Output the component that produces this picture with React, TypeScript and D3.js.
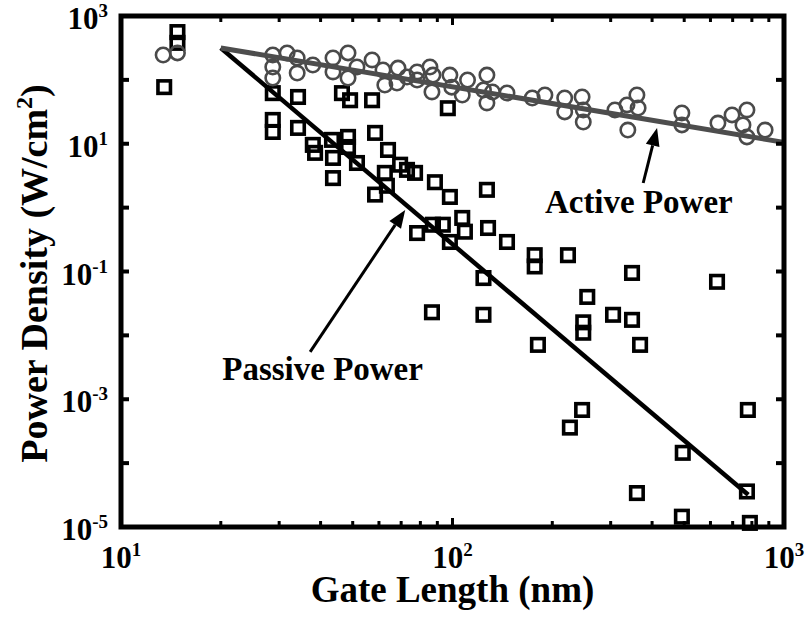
import React from "react";
import * as d3 from "d3";

// Passive power (squares)
const passiveX = [14.8, 14.8, 13.5, 28.7, 34.2, 46.4, 49.1, 57.2, 96.8, 28.7, 28.7, 34.2, 37.9, 38.5, 43.3, 48.4, 48.4, 43.6, 51.5, 43.6, 58.4, 63.9, 62.5, 69.5, 72.9, 77.1, 88.5, 58.4, 63.4, 98.2, 127, 78.2, 87.3, 93.5, 107, 109, 98.2, 128, 146, 177, 177, 124, 86.7, 124, 181, 223, 348, 255, 248, 248, 305, 348, 368, 628, 246, 226, 495, 360, 492, 778, 773, 789];
const passiveY = [560, 380, 77, 62, 54, 62, 48, 48, 36, 23.6, 15.3, 17.7, 9.6, 7.2, 11.5, 12.8, 8.9, 6.0, 5.0, 2.9, 14.8, 8.0, 3.5, 4.7, 3.9, 3.5, 2.5, 1.6, 2.2, 1.47, 1.9, 0.40, 0.54, 0.54, 0.69, 0.42, 0.29, 0.48, 0.29, 0.18, 0.12, 0.079, 0.023, 0.021, 0.0071, 0.18, 0.095, 0.040, 0.016, 0.011, 0.021, 0.0175, 0.0071, 0.069, 6.8e-4, 3.6e-4, 1.45e-4, 3.4e-5, 1.45e-5, 6.8e-4, 3.6e-5, 1.16e-5];

// Active power (circles)
const activeX = [13.4, 14.8, 28.7, 31.7, 34.0, 28.7, 28.7, 34.0, 37.9, 43.6, 48.4, 43.6, 48.4, 51.5, 57.2, 61.7, 62.5, 68.5, 68.0, 72.9, 78.2, 78.2, 85.5, 87.3, 86.7, 98.2, 99.5, 107, 111, 127, 124, 127, 132, 146, 174, 190, 218, 246, 218, 248, 248, 309, 336, 360, 363, 338, 492, 492, 632, 697, 773, 752, 773, 877];
const activeY = [245, 264, 245, 264, 220, 159, 107, 128, 171, 220, 264, 133, 107, 159, 205, 143, 83, 153, 89, 111, 133, 99.6, 159, 119, 64.7, 119, 77, 58, 99.6, 119, 69.5, 43.5, 64.7, 62.4, 52, 58, 52, 54, 31.5, 33.8, 21.9, 33.8, 40.5, 58, 36.3, 16.4, 30.3, 19.7, 21.1, 28.3, 33.8, 19.7, 12.8, 16.4];

// Fitted trend lines
const activeFitX = [20, 1000];
const activeFitY = [316, 10.5];
const passiveFitX = [20, 780];
const passiveFitY = [316, 3.2e-5];

const xTickValues = [10, 100, 1000];
const xTickExp = ["1", "2", "3"];
const yTickValues = [1e3, 1e1, 1e-1, 1e-3, 1e-5];
const yTickExp = ["3", "1", "-1", "-3", "-5"];
const yMajor = [1e-5, 1e-4, 1e-3, 1e-2, 1e-1, 1, 10, 100, 1000];

const font = "'Liberation Serif', 'Times New Roman', serif";

export default function App() {
  const left = 121, right = 784, top = 16, bottom = 527;
  const x = d3.scaleLog().domain([10, 1000]).range([left, right]);
  const y = d3.scaleLog().domain([1e-5, 1e3]).range([bottom, top]);

  const xMinor: number[] = [];
  for (const dec of [10, 100]) for (let k = 2; k <= 9; k++) xMinor.push(dec * k);

  const line = d3.line<[number, number]>().x((d) => x(d[0])).y((d) => y(d[1]));
  const activeLine = line(activeFitX.map((v, i) => [v, activeFitY[i]] as [number, number]));
  const passiveLine = line(passiveFitX.map((v, i) => [v, passiveFitY[i]] as [number, number]));

  const arrow = (x0: number, y0: number, x1: number, y1: number, key: string) => {
    const px0 = x(x0), py0 = y(y0), px1 = x(x1), py1 = y(y1);
    const ang = Math.atan2(py1 - py0, px1 - px0);
    const L = 18, W = 7;
    const bx = px1 - L * Math.cos(ang), by = py1 - L * Math.sin(ang);
    const nx = -Math.sin(ang), ny = Math.cos(ang);
    return (
      <g key={key}>
        <line x1={px0} y1={py0} x2={bx} y2={by} stroke="#000" strokeWidth={3} />
        <path d={`M${px1},${py1}L${bx + nx * W},${by + ny * W}L${bx - nx * W},${by - ny * W}Z`} fill="#000" />
      </g>
    );
  };

  const sq = 12.5;
  return (
    <svg width={808} height={622} style={{ position: "absolute", left: 0, top: 0, background: "#fff" }} fontFamily={font} fontWeight="bold">
      {/* markers */}
      {passiveX.map((v, i) => (
        <rect key={"s" + i} x={x(v) - sq / 2} y={y(passiveY[i]) - sq / 2} width={sq} height={sq} fill="none" stroke="#000" strokeWidth={3.6} />
      ))}
      {activeX.map((v, i) => (
        <circle key={"c" + i} cx={x(v)} cy={y(activeY[i])} r={7.2} fill="none" stroke="#4a4a4a" strokeWidth={2.6} />
      ))}
      {/* fit lines */}
      <path d={passiveLine || ""} stroke="#000" strokeWidth={4.5} fill="none" />
      <path d={activeLine || ""} stroke="#4d4d4d" strokeWidth={5} fill="none" />

      {/* frame */}
      <rect x={left} y={top} width={right - left} height={bottom - top} fill="none" stroke="#000" strokeWidth={5} />
      {/* x ticks */}
      {xMinor.map((v) => (
        <g key={"xm" + v}>
          <line x1={x(v)} x2={x(v)} y1={bottom} y2={bottom - 6} stroke="#000" strokeWidth={3} />
          <line x1={x(v)} x2={x(v)} y1={top} y2={top + 6} stroke="#000" strokeWidth={3} />
        </g>
      ))}
      {xTickValues.map((v) => (
        <g key={"xM" + v}>
          <line x1={x(v)} x2={x(v)} y1={bottom} y2={bottom - 9} stroke="#000" strokeWidth={3} />
          <line x1={x(v)} x2={x(v)} y1={top} y2={top + 9} stroke="#000" strokeWidth={3} />
        </g>
      ))}
      {yMajor.map((v) => (
        <g key={"yM" + v}>
          <line x1={left} x2={left + 8} y1={y(v)} y2={y(v)} stroke="#000" strokeWidth={4} />
          <line x1={right} x2={right - 8} y1={y(v)} y2={y(v)} stroke="#000" strokeWidth={4} />
        </g>
      ))}
      {/* tick labels */}
      {xTickValues.map((v, i) => (
        <text key={"xl" + v} x={x(v)} y={568} textAnchor="middle" fontSize={31}>
          10<tspan fontSize={19} dy={-12}>{xTickExp[i]}</tspan>
        </text>
      ))}
      {yTickValues.map((v, i) => (
        <text key={"yl" + v} x={108} y={y(v) + 13} textAnchor="end" fontSize={31}>
          10<tspan fontSize={19} dy={-12}>{yTickExp[i]}</tspan>
        </text>
      ))}
      {/* axis titles */}
      <text x={(left + right) / 2} y={602} textAnchor="middle" fontSize={37}>Gate Length (nm)</text>
      <text transform={`translate(47, ${(top + bottom) / 2 + 2}) rotate(-90)`} textAnchor="middle" fontSize={38}>
        Power Density (W/cm<tspan fontSize={24} dy={-15}>2</tspan><tspan dy={15}>)</tspan>
      </text>
      {/* annotations */}
      {arrow(37.2, 0.0055, 72, 0.92, "pa")}
      {arrow(376, 2.43, 414, 17.7, "aa")}
      <text x={x(20.2)} y={y(0.002)} fontSize={33}>Passive Power</text>
      <text x={x(190)} y={y(0.83)} fontSize={33}>Active Power</text>
    </svg>
  );
}
